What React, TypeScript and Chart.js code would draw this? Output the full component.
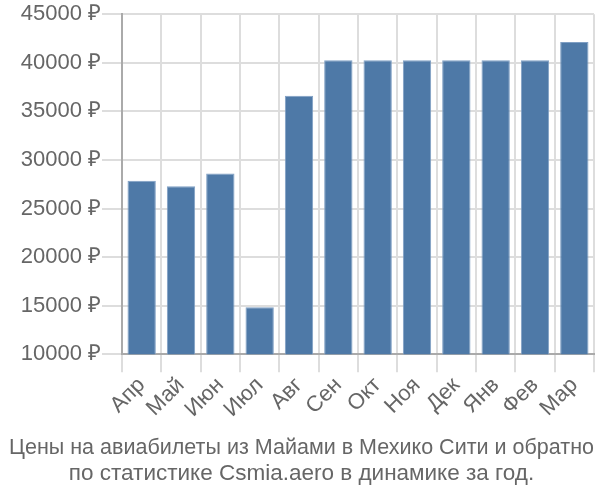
import React, { useEffect, useRef } from "react";
import { Chart, registerables } from "chart.js";

Chart.register(...registerables);

const months = ["Апр", "Май", "Июн", "Июл", "Авг", "Сен", "Окт", "Ноя", "Дек", "Янв", "Фев", "Мар"];
const prices = [27850, 27300, 28600, 14850, 36600, 40250, 40250, 40250, 40250, 40250, 40250, 42150];
const titleLines = [
  "Цены на авиабилеты из Майами в Мехико Сити и обратно",
  "по статистике Csmia.aero в динамике за год.",
];
const yMin = 10000;
const yMax = 45000;
const yStep = 5000;

export default function App() {
  const ref = useRef<HTMLCanvasElement | null>(null);
  useEffect(() => {
    if (!ref.current) return;
    const font = "'Liberation Sans', Arial, sans-serif";
    const chart = new Chart(ref.current, {
      type: "bar",
      data: {
        labels: months,
        datasets: [
          {
            data: prices,
            backgroundColor: "#4e79a7",
            borderColor: "#7f9fc4",
            borderWidth: 1,
          },
        ],
      },
      options: {
        animation: false,
        responsive: false,
        layout: { padding: { top: -2, right: 6, left: 9, bottom: 0 } },
        plugins: {
          legend: { display: false },
          tooltip: { enabled: false },
          title: {
            display: true,
            position: "bottom",
            text: titleLines,
            color: "#666",
            font: { family: font, size: 22.5, weight: "normal", lineHeight: 1.12 },
            padding: { top: 0, bottom: 14 },
          },
        },
        scales: {
          x: {
            afterFit: (scale: any) => {
              scale.height = scale.height + 13;
            },
            grid: { color: "#dddddd", lineWidth: 2, tickLength: 18, offset: true },
            border: { color: "#aaaaaa", width: 2 },
            ticks: {
              color: "#666",
              font: { family: font, size: 22 },
              maxRotation: 45,
              minRotation: 45,
              autoSkip: false,
              padding: 0,
            },
          },
          y: {
            min: yMin,
            max: yMax,
            afterFit: (scale: any) => {
              scale.width = 113;
            },
            grid: { color: "#dddddd", lineWidth: 2, tickLength: 20 },
            border: { color: "#aaaaaa", width: 2 },
            ticks: {
              stepSize: yStep,
              color: "#666",
              font: { family: font, size: 22 },
              padding: 1,
              callback: (v: any) => `${v} ₽`,
            },
          },
        },
      },
    });
    return () => chart.destroy();
  }, []);
  return (
    <div style={{ position: "fixed", left: 0, top: 0, width: 600, height: 500, background: "#fff" }}>
      <canvas ref={ref} width={600} height={500} />
    </div>
  );
}
